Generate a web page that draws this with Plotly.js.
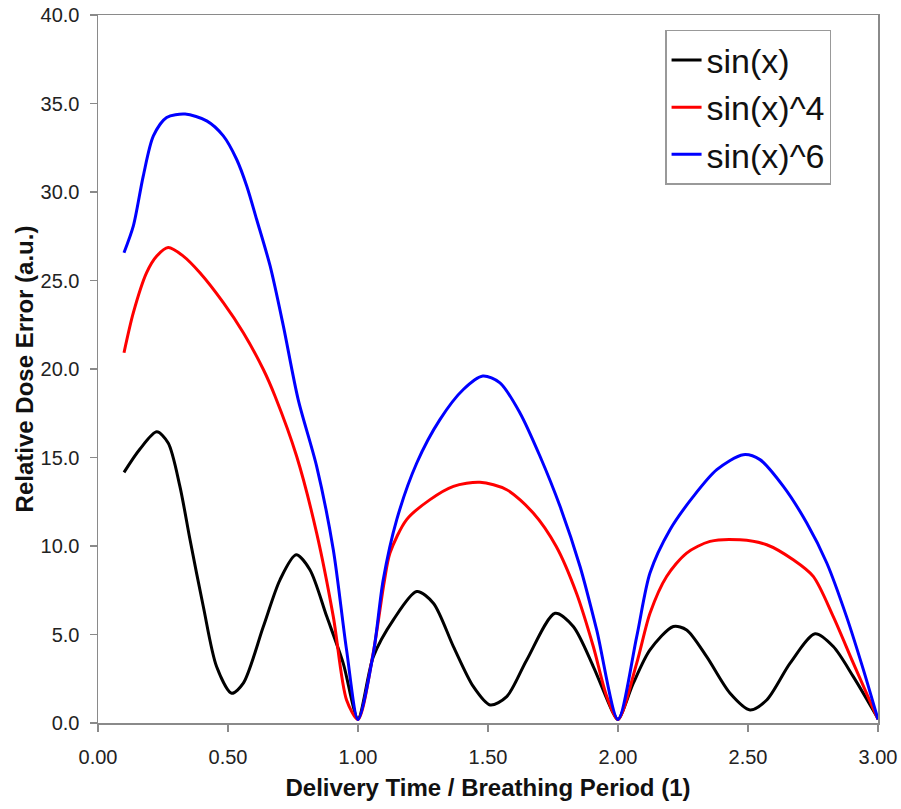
<!DOCTYPE html>
<html>
<head>
<meta charset="utf-8">
<script src="https://cdn.plot.ly/plotly-3.0.1.min.js"></script>
<style>html,body{margin:0;padding:0;background:#fff;}#chart{width:901px;height:809px;}</style>
</head>
<body>
<div id="chart"></div>
<script>
// sin(x)
const xSin = [0.10,0.16,0.226,0.27,0.315,0.354,0.405,0.456,0.514,0.559,0.636,0.70,0.762,0.815,0.88,0.943,1.00,1.059,1.136,1.226,1.29,1.367,1.444,1.508,1.572,1.649,1.758,1.828,1.905,1.982,2.00,2.059,2.123,2.213,2.264,2.341,2.431,2.508,2.572,2.662,2.758,2.828,2.905,3.00];
const ySin = [14.16,15.45,16.45,15.82,13.37,10.35,6.58,3.19,1.68,2.25,5.45,8.09,9.5,8.66,6.01,3.38,0.26,3.75,5.83,7.43,6.77,4.32,2.05,1.02,1.49,3.56,6.2,5.45,3.19,0.55,0.2,2.25,4.13,5.45,5.26,3.75,1.68,0.74,1.3,3.38,5.04,4.32,2.62,0.25];
// sin(x)^4
const xSin4 = [0.10,0.136,0.187,0.226,0.27,0.328,0.392,0.482,0.559,0.636,0.681,0.764,0.841,0.905,0.956,1.00,1.059,1.10,1.123,1.187,1.277,1.367,1.469,1.572,1.674,1.762,1.84,1.905,1.957,2.00,2.072,2.123,2.187,2.264,2.354,2.469,2.572,2.674,2.751,2.828,2.905,3.00];
const ySin4 = [20.92,23.18,25.44,26.38,26.86,26.38,25.44,23.75,22.05,19.97,18.46,15.07,10.73,6.01,1.3,0.2,4.0,7.9,9.6,11.49,12.62,13.37,13.6,13.18,11.86,9.98,7.34,4.32,1.49,0.2,3.38,6.2,8.28,9.6,10.26,10.35,10.07,9.22,8.28,6.01,3.38,0.2];
// sin(x)^6
const xSin6 = [0.10,0.136,0.174,0.213,0.264,0.335,0.418,0.482,0.533,0.572,0.61,0.662,0.713,0.77,0.841,0.905,0.956,1.00,1.059,1.097,1.149,1.226,1.315,1.405,1.48,1.546,1.623,1.70,1.777,1.854,1.918,2.00,2.072,2.123,2.20,2.29,2.38,2.482,2.546,2.636,2.726,2.803,2.879,2.944,3.00];
const ySin6 = [26.57,28.08,30.9,33.17,34.21,34.4,34.02,33.17,31.85,30.34,28.46,25.82,22.42,18.27,14.5,9.79,4.13,0.2,3.94,8.09,11.49,14.69,17.14,18.84,19.6,19.22,17.52,15.07,12.24,8.84,5.26,0.2,4.88,8.47,10.92,12.8,14.31,15.16,14.88,13.37,11.3,9.04,6.01,3.0,0.2];

const seriesNames = ['sin(x)','sin(x)^4','sin(x)^6'];
const seriesColors = ['#000000','#ff0000','#0000ff'];
const xs = [xSin, xSin4, xSin6];
const ys = [ySin, ySin4, ySin6];

const traces = seriesNames.map((n,i)=>({
  x: xs[i], y: ys[i], name: n, type: 'scatter', mode: 'lines',
  line: {color: seriesColors[i], width: 3, shape: 'spline', smoothing: 0.8}
}));

const FONT = 'Liberation Sans, Arial, sans-serif';
const axisCommon = {
  showgrid: false, zeroline: false, showline: true, linecolor: '#8a8a8a', linewidth: 1.5,
  mirror: true, ticks: 'outside', ticklen: 7, tickcolor: '#8a8a8a', tickwidth: 1.5,
  tickfont: {family: FONT, size: 20, color: '#222'}
};

const layout = {
  width: 901, height: 809,
  margin: {l: 98, r: 23, t: 15, b: 86},
  paper_bgcolor: '#fff', plot_bgcolor: '#fff',
  showlegend: true,
  legend: {
    x: 0.727, y: 0.979, xanchor: 'left', yanchor: 'top',
    bordercolor: '#999', borderwidth: 1.5, bgcolor: '#fff',
    font: {family: FONT, size: 34, color: '#111'},
    tracegroupgap: 0, itemwidth: 30
  },
  xaxis: Object.assign({}, axisCommon, {
    range: [0, 3], dtick: 0.5, tick0: 0, tickformat: '.2f', ticklabelstandoff: 8,
    title: {text: '<b>Delivery Time / Breathing Period (1)</b>', standoff: 12,
      font: {family: FONT, size: 24, color: '#111'}}
  }),
  yaxis: Object.assign({}, axisCommon, {
    range: [0, 40], dtick: 5, tick0: 0, tickformat: '.1f', ticklabelstandoff: 6,
    title: {text: '<b>Relative Dose Error (a.u.)</b>', standoff: 0,
      font: {family: FONT, size: 24, color: '#111'}}
  })
};

Plotly.newPlot('chart', traces, layout, {displayModeBar: false, staticPlot: true});
</script>
</body>
</html>
